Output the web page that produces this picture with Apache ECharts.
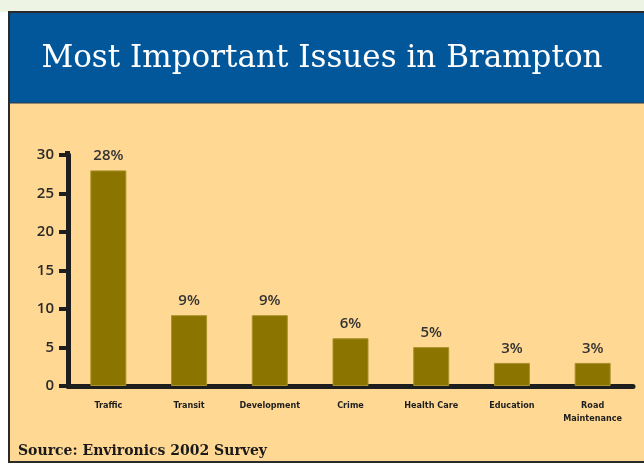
<!DOCTYPE html>
<html>
<head>
<meta charset="utf-8">
<script src="https://cdn.jsdelivr.net/npm/echarts@6/dist/echarts.min.js"></script>
<style>
html,body{margin:0;padding:0;background:#ffffff;}
#chart{width:644px;height:470px;}
</style>
</head>
<body>
<div id="chart"></div>
<script>
var titleText = 'Most Important Issues in Brampton';
var sourceText = 'Source: Environics 2002 Survey';
var categories = ['Traffic', 'Transit', 'Development', 'Crime', 'Health Care', 'Education', 'Road\nMaintenance'];
var values = [28, 9.2, 9.2, 6.2, 5.05, 3, 3];
var valueLabels = ['28%', '9%', '9%', '6%', '5%', '3%', '3%'];
var yTicks = [0, 5, 10, 15, 20, 25, 30];

var chart = echarts.init(document.getElementById('chart'), null, {renderer: 'canvas'});
chart.setOption({
  animation: false,
  backgroundColor: '#ffffff',
  graphic: [
    {type: 'rect', z: -10, shape: {x: 0, y: 0, width: 644, height: 12}, style: {fill: '#edf4e4'}},
    {type: 'rect', z: -9, shape: {x: 9, y: 12, width: 660, height: 450}, style: {fill: '#ffd893', stroke: '#2a2a2a', lineWidth: 2}},
    {type: 'rect', z: -8, shape: {x: 10, y: 13, width: 660, height: 90}, style: {fill: '#02579b'}},
    {type: 'line', z: -8, shape: {x1: 10, y1: 103, x2: 644, y2: 103}, style: {stroke: '#2a3a4a', lineWidth: 1}},
    {type: 'line', z: 5, shape: {x1: 67.5, y1: 151, x2: 67.5, y2: 156}, style: {stroke: '#1e1e1e', lineWidth: 5}},
    {type: 'text', z: 10, left: 18, top: 444, style: {text: sourceText, font: 'bold 14px "DejaVu Serif"', fill: '#1a1a1a'}}
  ],
  title: {
    text: titleText,
    left: 'center',
    top: 38,
    textStyle: {fontFamily: 'DejaVu Serif', fontSize: 31, fontWeight: 'normal', color: '#ffffff'}
  },
  grid: {left: 68, right: 11, top: 155, bottom: 84, containLabel: false},
  xAxis: {
    type: 'category',
    data: categories,
    axisLine: {lineStyle: {color: '#1e1e1e', width: 5}},
    axisTick: {show: false},
    axisLabel: {interval: 0, fontSize: 9, fontWeight: 'bold', color: '#1e1e1e', fontFamily: 'DejaVu Sans Condensed, sans-serif', margin: 13, lineHeight: 13}
  },
  yAxis: {
    type: 'value',
    min: yTicks[0],
    max: yTicks[yTicks.length - 1],
    interval: 5,
    splitLine: {show: false},
    axisLine: {show: true, lineStyle: {color: '#1e1e1e', width: 5}},
    axisTick: {show: true, length: 9, lineStyle: {color: '#1e1e1e', width: 4}},
    axisLabel: {fontSize: 15, fontWeight: 600, color: '#2a2a2a', fontFamily: 'Open Sans, sans-serif', margin: 14}
  },
  series: [{
    type: 'bar',
    data: values,
    barWidth: 36,
    itemStyle: {color: '#8c7400', borderColor: '#a8922a', borderWidth: 1},
    label: {
      show: true,
      position: 'top',
      distance: 7,
      fontSize: 15,
      fontWeight: 600,
      color: '#333333',
      fontFamily: 'Open Sans, sans-serif',
      formatter: function (p) { return valueLabels[p.dataIndex]; }
    }
  }]
});
</script>
</body>
</html>
